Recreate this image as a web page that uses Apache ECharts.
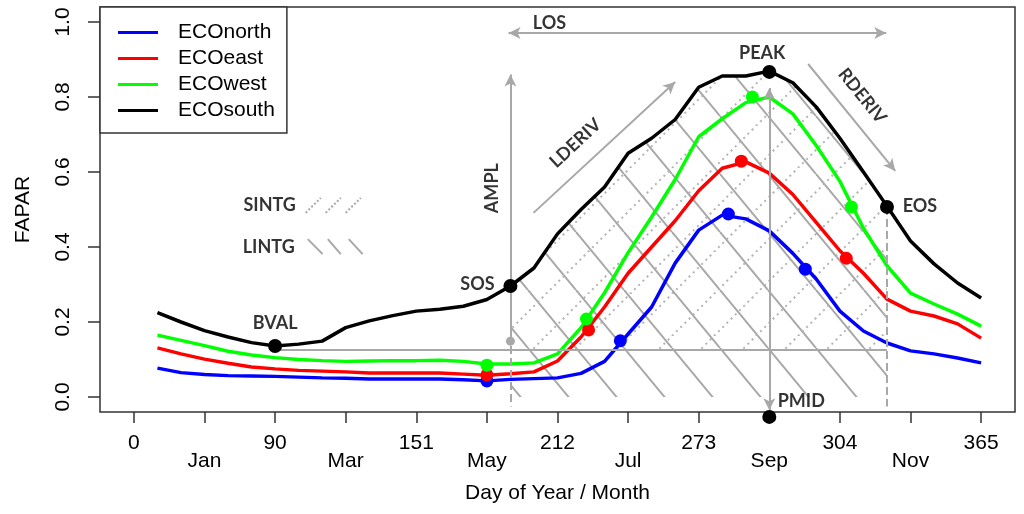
<!DOCTYPE html>
<html><head><meta charset="utf-8">
<script src="https://cdn.jsdelivr.net/npm/echarts@6/dist/echarts.min.js"></script>
<style>html,body{margin:0;padding:0;background:#fff}#c{width:1024px;height:514px}</style>
</head><body><div id="c"></div>
<script>
// ---- data (x = dekad of year, 1..36) ----
const dekad = [1,2,3,4,5,6,7,8,9,10,11,12,13,14,15,16,17,18,19,20,21,22,23,24,25,26,27,28,29,30,31,32,33,34,35,36];
const ecoNorth = [0.077,0.065,0.060,0.057,0.056,0.055,0.053,0.051,0.050,0.048,0.048,0.048,0.048,0.046,0.043,0.047,0.049,0.051,0.063,0.095,0.168,0.240,0.357,0.445,0.485,0.475,0.443,0.383,0.314,0.229,0.176,0.144,0.123,0.115,0.104,0.091];
const ecoEast  = [0.131,0.115,0.101,0.090,0.080,0.075,0.071,0.069,0.067,0.064,0.064,0.064,0.064,0.061,0.058,0.062,0.067,0.096,0.160,0.240,0.330,0.400,0.470,0.550,0.610,0.627,0.597,0.540,0.465,0.390,0.330,0.261,0.229,0.216,0.195,0.157];
const ecoWest  = [0.165,0.151,0.137,0.122,0.112,0.105,0.100,0.097,0.095,0.096,0.097,0.097,0.098,0.095,0.088,0.088,0.091,0.115,0.185,0.278,0.385,0.480,0.580,0.694,0.742,0.785,0.800,0.755,0.670,0.575,0.450,0.350,0.277,0.248,0.221,0.189];
const ecoSouth = [0.225,0.200,0.177,0.160,0.145,0.136,0.141,0.149,0.185,0.203,0.217,0.229,0.234,0.242,0.260,0.296,0.344,0.435,0.500,0.560,0.650,0.690,0.740,0.826,0.856,0.856,0.869,0.838,0.773,0.690,0.600,0.509,0.416,0.355,0.304,0.264];

const seriesNames = ['ECOnorth','ECOeast','ECOwest','ECOsouth'];
const seriesColors = ['#0000FF','#FF0000','#00FF00','#000000'];

// x-axis ticks (dekad positions) and their labels
const xTickValues = [0,3,6,9,12,15,18,21,24,27,30,33,36];
const xTickLabels = ['0','Jan','90','Mar','151','May','212','Jul','273','Sep','304','Nov','365'];
const yTickValues = [0,0.2,0.4,0.6,0.8,1.0];

// phenology metrics
const sosDekad = 16, eosDekad = 32, baseValue = 0.125;
const keyX = [6, 16, 27, 32, 27];              // BVAL, SOS, PEAK, EOS, PMID
const keyY = [0.136, 0.296, 0.867, 0.507, -0.053];
const northPtX = [15, 20.67, 25.26, 28.53], northPtY = [0.043, 0.150, 0.488, 0.341];
const eastPtX  = [15, 19.32, 25.81, 30.27], eastPtY  = [0.059, 0.179, 0.629, 0.370];
const westPtX  = [15, 19.23, 26.28, 30.49], westPtY  = [0.085, 0.208, 0.800, 0.507];
const amplBaseX = [16], amplBaseY = [0.149];

// annotation arrows / guide lines
const arrowFromX = [15.92, 16,    16.98, 27,    28.65, 32,    16,    6,     7.30, 8.15, 9.00, 7.39, 8.24, 9.13];
const arrowFromY = [0.971, 0.149, 0.491, 0.824, 0.888, 0.507, 0.296, 0.125, 0.491,0.491,0.491,0.421,0.421,0.421];
const arrowToX   = [31.97, 16,    23.0,  27,    32.35, 32,    16,    32,    7.94, 8.79, 9.64, 8.02, 8.79, 9.72];
const arrowToY   = [0.971, 0.86,  0.84,  -0.035,0.603, -0.025,-0.025,0.125, 0.531,0.531,0.531,0.381,0.381,0.381];
const arrowHeads = ['both','end','end','both','end','none','none','none','none','none','none','none','none','none'];
const arrowStyle = ['solid','solid','solid','solid','solid','dashed','dashed','solid','dotted','dotted','dotted','solid','solid','solid'];

// annotation texts
const annoText = ['BVAL','SOS','PEAK','EOS','PMID','AMPL','LOS','LDERIV','RDERIV','SINTG','LINTG'];
const annoX = [6, 14.6, 26.7, 33.4, 28.36, 15.24, 17.66, 18.76, 30.95, 5.77, 5.73];
const annoY = [0.197, 0.301, 0.917, 0.509, -0.011, 0.557, 0.997, 0.677, 0.803, 0.512, 0.400];
const annoRot = [0, 0, 0, 0, 0, 90, 0, 43, -51, 0, 0];

// ---- build ----
const GRAY = '#A8A8A8';
function hatch(w, h, up, dotted) {
  const c = document.createElement('canvas'); c.width = w; c.height = h;
  const g = c.getContext('2d'); g.strokeStyle = dotted ? '#B4B4B4' : GRAY; g.lineWidth = 2;
  if (dotted) { const L = Math.hypot(w, h); const n = Math.round(L / 6); g.setLineDash([2, L / n - 2]); }
  for (const off of [-w, 0, w]) {
    g.beginPath();
    if (up) { g.moveTo(off, h); g.lineTo(off + w, 0); } else { g.moveTo(off, 0); g.lineTo(off + w, h); }
    g.stroke();
  }
  return c;
}
const zip = (xs, ys) => xs.map((x, i) => [x, ys[i]]);
const curves = [ecoNorth, ecoEast, ecoWest, ecoSouth];
const seasonIdx = dekad.map((d, i) => i).filter(i => dekad[i] >= sosDekad && dekad[i] <= eosDekad);
const seasonData = seasonIdx.map(i => [dekad[i], ecoSouth[i]]);

const series = [];
series.push({ type: 'line', data: seasonData, showSymbol: false, silent: true, z: 1, lineStyle: { width: 0 },
  areaStyle: { color: { image: hatch(48, 58, false, false), repeat: 'repeat' }, opacity: 1 }, animation: false });
series.push({ type: 'line', data: seasonData, showSymbol: false, silent: true, z: 1, lineStyle: { width: 0 },
  areaStyle: { color: { image: hatch(42, 42, true, true), repeat: 'repeat' }, opacity: 1, origin: baseValue }, animation: false });

const mlData = arrowFromX.map((x, i) => {
  const h = arrowHeads[i];
  const ls = { color: GRAY, width: 2, type: arrowStyle[i] };
  return [
    { coord: [x, arrowFromY[i]], symbol: h === 'both' ? 'arrow' : 'none', lineStyle: ls },
    { coord: [arrowToX[i], arrowToY[i]], symbol: (h === 'both' || h === 'end') ? 'arrow' : 'none', lineStyle: ls }
  ];
});
series.push({ type: 'line', data: [], z: 2, silent: true, animation: false,
  markLine: { silent: true, animation: false, symbolSize: [9, 12], label: { show: false }, lineStyle: { color: GRAY, width: 2 }, data: mlData } });

curves.forEach((ys, k) => series.push({ name: seriesNames[k], type: 'line', data: zip(dekad, ys), showSymbol: false,
  z: 3, lineStyle: { color: seriesColors[k], width: 3.5 }, itemStyle: { color: seriesColors[k] }, animation: false }));

series.push({ type: 'scatter', data: zip(amplBaseX, amplBaseY), symbolSize: 9, itemStyle: { color: GRAY, opacity: 1 }, z: 4, clip: false, silent: true, animation: false });
[[northPtX, northPtY, 0], [eastPtX, eastPtY, 1], [westPtX, westPtY, 2]].forEach(([xs, ys, k]) =>
  series.push({ type: 'scatter', data: zip(xs, ys), symbolSize: 13, itemStyle: { color: seriesColors[k], opacity: 1 }, z: 4, clip: false, silent: true, animation: false }));
series.push({ type: 'scatter', data: zip(keyX, keyY), symbolSize: 14, itemStyle: { color: '#000', opacity: 1 }, z: 5, clip: false, silent: true, animation: false });

series.push({ type: 'scatter', z: 6, clip: false, silent: true, animation: false, symbolSize: 1, itemStyle: { color: 'rgba(0,0,0,0)' },
  data: annoText.map((t, i) => ({ value: [annoX[i], annoY[i]], name: t,
    label: { show: true, position: 'inside', formatter: t, rotate: annoRot[i], fontFamily: 'Lato', fontWeight: 'bold', fontSize: 18, color: '#000' } })) });

const font = 'Liberation Sans, Arial, sans-serif';
const chart = echarts.init(document.getElementById('c'), null, { renderer: 'canvas' });
chart.setOption({
  animation: false,
  backgroundColor: '#fff',
  grid: { left: 100, right: 9, top: 7, bottom: 102, show: true, borderColor: '#333', borderWidth: 1.5, backgroundColor: 'transparent' },
  legend: { data: seriesNames, orient: 'vertical', left: 100, top: 7, padding: [15, 12, 12, 18], itemGap: 5,
    itemWidth: 40, itemHeight: 3, icon: 'rect', backgroundColor: '#fff', borderColor: '#333', borderWidth: 1.5,
    textStyle: { fontFamily: font, fontSize: 21, color: '#000', padding: [0, 0, 0, 15] } },
  xAxis: { type: 'value', min: -1.44, max: 37.44, splitLine: { show: false },
    axisLine: { show: false, onZero: false },
    axisTick: { show: true, length: 11, customValues: xTickValues, lineStyle: { color: '#333', width: 1.5 } },
    axisLabel: { customValues: xTickValues, margin: 22, fontFamily: font, fontSize: 21, color: '#000', lineHeight: 18,
      formatter: v => { const i = xTickValues.indexOf(v); if (i < 0) return ''; return i % 2 ? '\n' + xTickLabels[i] : xTickLabels[i]; } },
    name: 'Day of Year / Month', nameLocation: 'middle', nameGap: 71, nameTextStyle: { fontFamily: font, fontSize: 21, color: '#000' } },
  yAxis: { type: 'value', min: -0.04, max: 1.04, splitLine: { show: false },
    axisLine: { show: false, onZero: false },
    axisTick: { show: true, length: 12, customValues: yTickValues, lineStyle: { color: '#333', width: 1.5 } },
    axisLabel: { customValues: yTickValues, rotate: 90, margin: 26, fontFamily: font, fontSize: 21, color: '#000', formatter: v => v.toFixed(1) },
    name: 'FAPAR', nameLocation: 'middle', nameGap: 66, nameRotate: 90, nameTextStyle: { fontFamily: font, fontSize: 21, color: '#000' } },
  series
});
</script></body></html>
